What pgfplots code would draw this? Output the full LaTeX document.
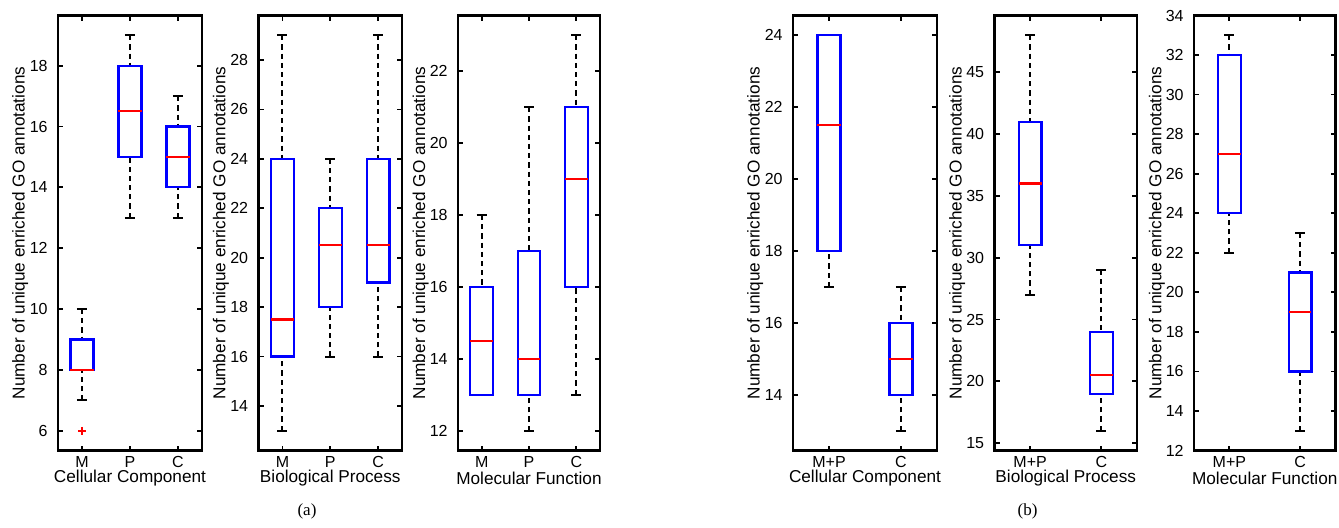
\documentclass[border=0pt]{standalone}
\usepackage{pgfplots}
\pgfplotsset{compat=1.18}
\usepackage{fontspec}
\setmainfont{Liberation Sans}
\newfontfamily\seriffont{Liberation Serif}

\pgfplotsset{
  mat/.style={
    scale only axis, height=217.5pt, anchor=south west,
    axis line style={line width=1.3pt},
    tick align=inside, tick pos=both,
    major tick length=2.5pt,
    every tick/.style={black, line width=0.9pt},
    tick label style={font=\fontsize{8}{9}\selectfont},
    /pgf/number format/assume math mode=true,
    xticklabel style={anchor=center, yshift=-5.8pt},
    yticklabel style={anchor=east, inner sep=0pt, xshift=-5pt},
    label style={font=\fontsize{8.6}{10}\selectfont},
    xlabel style={at={(axis description cs:0.5,0)}, anchor=center, yshift=-13.8pt},
    ylabel style={at={(axis description cs:-0.262,0.5)}, anchor=center},
    ylabel={Number of unique enriched GO annotations},
  },
  three/.style={mat, xmin=0.5, xmax=3.5, xtick={1,2,3}, xticklabels={M,P,C}},
  two/.style={mat, xmin=0.5, xmax=2.5, xtick={1,2}, xticklabels={M+P,C}},
  whisk/.style={black, line width=1pt, dash pattern=on 2.6pt off 2pt},
  cap/.style={black, line width=1pt},
  boxs/.style={blue, line width=1.1pt, line cap=rect},
  med/.style={red, line width=1.1pt},
}

% one MATLAB-style box:
% #1 position, #2 lower whisker, #3 lower quartile, #4 median,
% #5 upper quartile, #6 upper whisker, #7 half box width, #8 half cap width
\newcommand\bx[8]{%
  \pgfmathsetmacro\xl{#1-#7}\pgfmathsetmacro\xr{#1+#7}%
  \pgfmathsetmacro\cl{#1-#8}\pgfmathsetmacro\cr{#1+#8}%
  \edef\doplots{%
    \noexpand\addplot[whisk] coordinates {(#1,#2) (#1,#3)};
    \noexpand\addplot[whisk] coordinates {(#1,#6) (#1,#5)};
    \noexpand\addplot[cap] coordinates {(\cl,#2) (\cr,#2)};
    \noexpand\addplot[cap] coordinates {(\cl,#6) (\cr,#6)};
    \noexpand\addplot[boxs] coordinates {(\xl,#3) (\xr,#3) (\xr,#5) (\xl,#5) (\xl,#3)};
    \noexpand\addplot[med] coordinates {(\xl,#4) (\xr,#4)};
  }\doplots
}

\begin{document}
\begin{tikzpicture}
\useasboundingbox (0,0) rectangle (669.5pt,263.5pt);

% (a) Cellular Component
\begin{axis}[three, at={(29pt,38.25pt)}, width=72pt,
  ymin=5.35, ymax=19.65, ytick={6,8,...,18}, xlabel={Cellular Component}]
\bx{1}{7}{8}{8}{9}{10}{0.24}{0.105}
\bx{2}{13}{15}{16.5}{18}{19}{0.24}{0.105}
\bx{3}{13}{14}{15}{16}{17}{0.24}{0.105}
\addplot[only marks, mark=+, mark size=1.9pt, red, line width=0.9pt] coordinates {(1,6)};
\end{axis}

% (a) Biological Process
\begin{axis}[three, at={(129.25pt,38.25pt)}, width=71.75pt,
  ymin=12.2, ymax=29.8, ytick={14,16,...,28}, xlabel={Biological Process}]
\bx{1}{13}{16}{17.5}{24}{29}{0.24}{0.105}
\bx{2}{16}{18}{20.5}{22}{24}{0.24}{0.105}
\bx{3}{16}{19}{20.5}{24}{29}{0.24}{0.105}
\end{axis}

% (a) Molecular Function
\begin{axis}[three, at={(229pt,38.25pt)}, width=71pt,
  ymin=11.45, ymax=23.55, ytick={12,14,...,22}, xlabel={Molecular Function}]
\bx{1}{13}{13}{14.5}{16}{18}{0.24}{0.105}
\bx{2}{12}{13}{14}{17}{21}{0.24}{0.105}
\bx{3}{13}{16}{19}{21}{23}{0.24}{0.105}
\end{axis}

% (b) Cellular Component
\begin{axis}[two, at={(396.5pt,38.25pt)}, width=72pt,
  ymin=12.45, ymax=24.55, ytick={14,16,...,24}, xlabel={Cellular Component}]
\bx{1}{17}{18}{21.5}{24}{24}{0.16}{0.07}
\bx{2}{13}{14}{15}{16}{17}{0.16}{0.07}
\end{axis}

% (b) Biological Process
\begin{axis}[two, at={(497.25pt,38.25pt)}, width=71.25pt,
  ymin=14.4, ymax=49.6, ytick={15,20,...,45}, xlabel={Biological Process}]
\bx{1}{27}{31}{36}{41}{48}{0.16}{0.07}
\bx{2}{16}{19}{20.5}{24}{29}{0.16}{0.07}
\end{axis}

% (b) Molecular Function
\begin{axis}[two, at={(597pt,38.25pt)}, width=70.75pt,
  ymin=12, ymax=34, ytick={12,14,...,34}, xlabel={Molecular Function}]
\bx{1}{22}{24}{27}{32}{33}{0.16}{0.07}
\bx{2}{13}{16}{19}{21}{23}{0.16}{0.07}
\end{axis}

\node[font=\seriffont\fontsize{8.5}{10}\selectfont] at (153.5pt,7.65pt) {(a)};
\node[font=\seriffont\fontsize{8.5}{10}\selectfont] at (513.75pt,7.65pt) {(b)};
\end{tikzpicture}
\end{document}
